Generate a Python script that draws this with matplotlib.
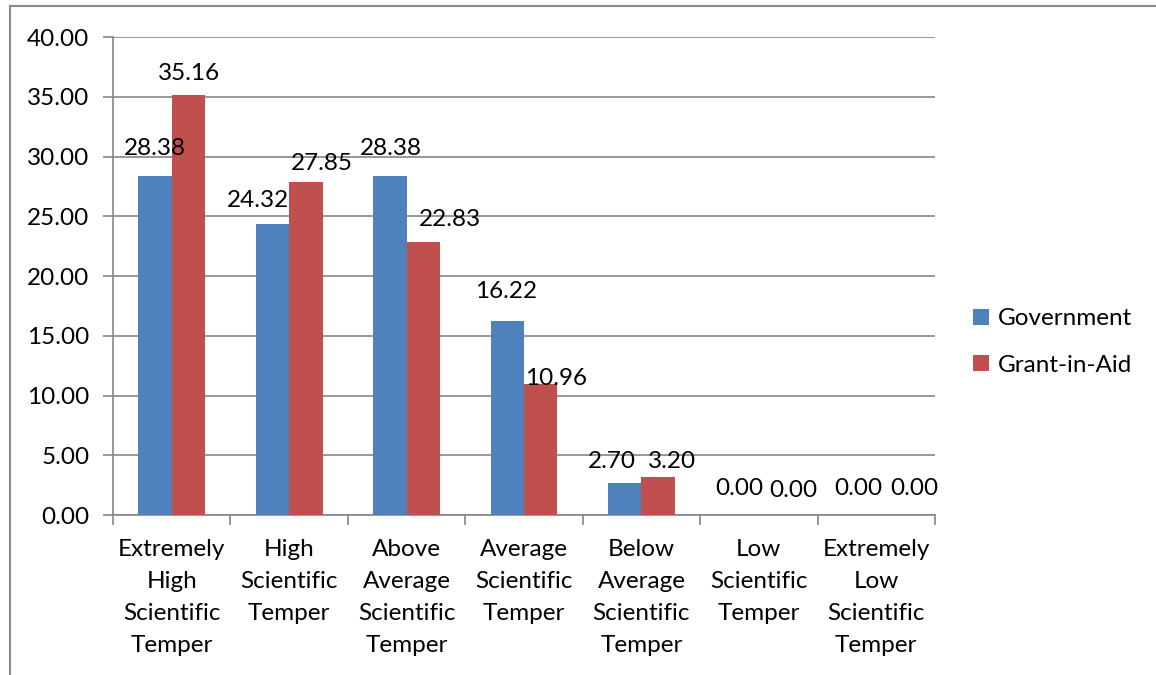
import matplotlib.pyplot as plt
import numpy as np
from matplotlib.lines import Line2D

plt.rcParams['font.family'] = ['Lato', 'DejaVu Sans']

#数据
categories = ["Extremely\nHigh\nScientific\nTemper", "High\nScientific\nTemper",
              "Above\nAverage\nScientific\nTemper", "Average\nScientific\nTemper",
              "Below\nAverage\nScientific\nTemper", "Low\nScientific\nTemper",
              "Extremely\nLow\nScientific\nTemper"]
government = [28.38, 24.32, 28.38, 16.22, 2.70, 0.00, 0.00]
grant_in_aid = [35.16, 27.85, 22.83, 10.96, 3.20, 0.00, 0.00]
y_ticks = [0, 5, 10, 15, 20, 25, 30, 35, 40]

#标签偏移(像素)
gov_offsets = [(0, 27), (-14, 24), (1, 27), (-1, 30), (-13, 21), (-3, 27), (-1, 27)]
gia_offsets = [(1, 21), (16, 19), (27, 23), (15, 6), (14, 15), (18, 25), (21, 27)]

blue = "#4F81BD"
red = "#C0504D"
grid_c = "#868686"
fs = 17.5

fig = plt.figure(figsize=(11.56, 6.75), dpi=100)
ax = fig.add_axes([0.0978, 0.237, 0.711, 0.708])

x = np.arange(len(categories))
w = 0.285
b1 = ax.bar(x - w/2, government, w, color=blue, label="Government", zorder=3)
b2 = ax.bar(x + w/2, grant_in_aid, w, color=red, label="Grant-in-Aid", zorder=3)

#数据标签
for bars, vals, offs in ((b1, government, gov_offsets), (b2, grant_in_aid, gia_offsets)):
    for rect, v, (dx, dy) in zip(bars, vals, offs):
        ax.annotate(f"{v:.2f}", (rect.get_x() + rect.get_width()/2, v),
                    xytext=(dx, dy), textcoords="offset pixels",
                    ha="center", va="center", fontsize=fs, zorder=4)

ax.set_xlim(-0.5, len(categories) - 0.5)
ax.set_ylim(0, 40)
ax.set_yticks(y_ticks)
ax.set_yticklabels([f"{t:.2f}" for t in y_ticks], fontsize=fs)
ax.yaxis.grid(True, color=grid_c, linewidth=1.2, zorder=0)
ax.tick_params(axis="y", length=7, color=grid_c, width=1.2, pad=10)

ax.set_xticks(x)
ax.set_xticklabels(categories, fontsize=fs, linespacing=1.66)
ax.tick_params(axis="x", length=0, pad=17)
ax.set_xticks(np.arange(len(categories) + 1) - 0.5, minor=True)
ax.tick_params(axis="x", which="minor", length=7, color=grid_c, width=1.2)

for s in ("top", "right"):
    ax.spines[s].set_visible(False)
for s in ("left", "bottom"):
    ax.spines[s].set_color(grid_c)
    ax.spines[s].set_linewidth(1.2)

ax.legend(loc="center left", bbox_to_anchor=(1.02, 0.362), frameon=False,
          fontsize=fs, handlelength=0.65, handleheight=0.65, handletextpad=0.35,
          labelspacing=1.05)

#外框
fig.add_artist(Line2D([10/1156, 1], [1 - 6/675, 1 - 6/675], color="#8a8a8a", linewidth=1.5))
fig.add_artist(Line2D([10/1156, 10/1156], [0, 1 - 6/675], color="#8a8a8a", linewidth=1.5))

plt.savefig("out.png", dpi=100)
